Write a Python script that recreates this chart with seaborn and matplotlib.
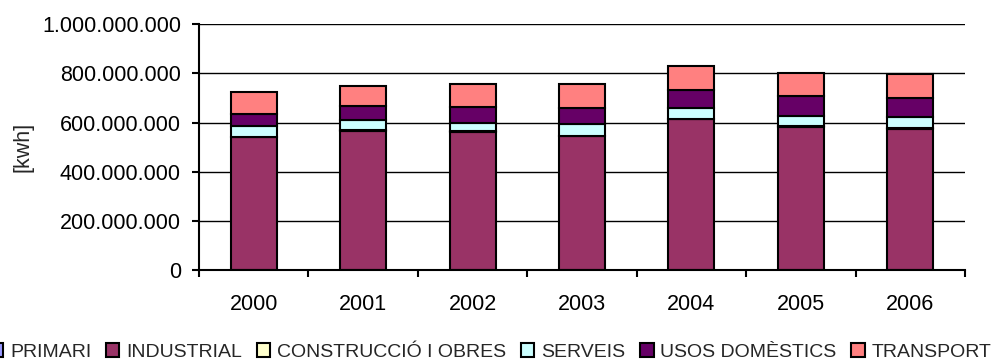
import numpy as np
import pandas as pd
import matplotlib
matplotlib.use("Agg")
import matplotlib.pyplot as plt
from matplotlib.patches import Patch
from matplotlib.ticker import FuncFormatter, FixedLocator
import seaborn as sns

years = ["2000", "2001", "2002", "2003", "2004", "2005", "2006"]
sectors = ["PRIMARI", "INDUSTRIAL", "CONSTRUCCIÓ I OBRES", "SERVEIS", "USOS DOMÈSTICS", "TRANSPORT"]

# energy consumption per sector [kWh]
primari = [1.5e6, 1.5e6, 2.0e6, 1.5e6, 1.5e6, 1.5e6, 1.5e6]
industrial = [540e6, 566e6, 558e6, 543e6, 613e6, 582e6, 573e6]
construccio = [1.5e6, 1.5e6, 6.0e6, 1.5e6, 1.5e6, 1.5e6, 1.5e6]
serveis = [44e6, 41e6, 30e6, 47e6, 41e6, 41e6, 47e6]
usos_domestics = [48e6, 56e6, 66e6, 66e6, 74e6, 81e6, 75e6]
transport = [89e6, 83e6, 94e6, 96e6, 99e6, 96e6, 97e6]

colors = ["#9999FF", "#993366", "#FFFFCC", "#CCFFFF", "#660066", "#FF8080"]
series = [primari, industrial, construccio, serveis, usos_domestics, transport]

sns.set_theme(style="white")
plt.rcParams["font.family"] = ["Liberation Sans", "DejaVu Sans"]

fig = plt.figure(figsize=(9.95, 3.63), dpi=100)
ax = fig.add_axes([0.2, 0.2554, 0.7698, 0.6785])

df = pd.DataFrame({"year": years})
bottom = np.zeros(len(years))
for name, vals, col in zip(sectors, series, colors):
    df[name] = vals
    sns.barplot(data=df, x="year", y=name, order=years, color=col, width=0.42,
                bottom=bottom, edgecolor="black", linewidth=1.5, ax=ax,
                saturation=1, zorder=3)
    bottom = bottom + np.array(vals)

ax.set_xlim(-0.5, 6.5)
ax.set_ylim(0, 1e9)
ax.set_yticks(np.arange(0, 1.0e9 + 1, 2e8))
ax.yaxis.set_major_formatter(FuncFormatter(lambda v, p: f"{int(round(v)):,}".replace(",", ".")))
ax.yaxis.grid(True, color="black", linewidth=1.0, zorder=0)
ax.set_axisbelow(True)

ax.set_xlabel("")
ax.set_ylabel("[kwh]", fontsize=15.5, labelpad=6)

# category boundaries carry the x tick marks
ax.xaxis.set_minor_locator(FixedLocator(np.arange(-0.5, 7.0, 1.0)))
ax.tick_params(axis="x", which="major", length=0, pad=17, labelsize=15.5, colors="black")
ax.tick_params(axis="x", which="minor", length=5, width=1.5, direction="out", bottom=True, color="black")
ax.tick_params(axis="y", which="major", length=5, width=1.5, direction="out", left=True, pad=8,
               labelsize=15.5, colors="black")

for s in ["top", "right"]:
    ax.spines[s].set_visible(False)
for s in ["left", "bottom"]:
    ax.spines[s].set_color("black")
    ax.spines[s].set_linewidth(1.5)
    ax.spines[s].set_zorder(4)

handles = [Patch(facecolor=c, edgecolor="black", linewidth=1.5, label=n) for n, c in zip(sectors, colors)]
fig.legend(handles=handles, loc="center", bbox_to_anchor=(0.493, 0.03), ncol=6, frameon=False,
           fontsize=14, handlelength=0.7, handleheight=0.7, handletextpad=0.35, columnspacing=0.75,
           borderaxespad=0)

fig.savefig("out.png", dpi=100)
